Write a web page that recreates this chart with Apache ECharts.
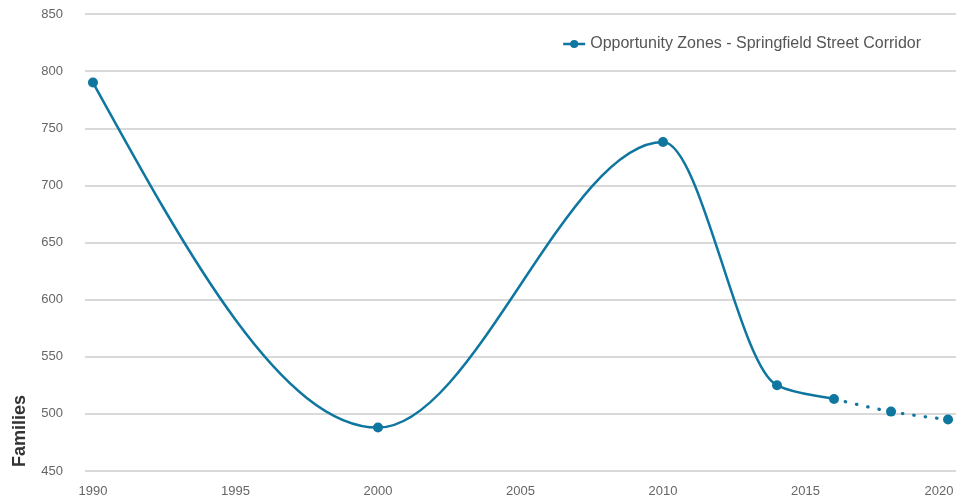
<!DOCTYPE html>
<html>
<head>
<meta charset="utf-8">
<script src="https://cdn.jsdelivr.net/npm/echarts@6/dist/echarts.min.js"></script>
<style>
  html, body { margin: 0; padding: 0; background: #fff; }
  #chart { width: 956px; height: 499px; }
</style>
</head>
<body>
<div id="chart"></div>
<script>
// Families counted in the corridor, by year
const seriesName = 'Opportunity Zones - Springfield Street Corridor';
const years = [1990, 2000, 2010, 2014, 2016, 2018, 2020];
const families = [790, 488, 738, 525, 513, 502, 495];
const projectionStart = 2016; // segments after this year are projections
const xTicks = [1990, 1995, 2000, 2005, 2010, 2015, 2020];
const yTicks = [450, 500, 550, 600, 650, 700, 750, 800, 850];

const blue = '#0f76a0';
const lastTick = xTicks[xTicks.length - 1];
const n = years.length;

// Monotone-x cubic tangents (Fritsch–Carlson style, as in d3.curveMonotoneX)
const sign = v => (v < 0 ? -1 : 1);
function innerSlope(i) {
  const h0 = years[i] - years[i - 1];
  const h1 = years[i + 1] - years[i];
  const s0 = (families[i] - families[i - 1]) / h0;
  const s1 = (families[i + 1] - families[i]) / h1;
  const p = (s0 * h1 + s1 * h0) / (h0 + h1);
  return (sign(s0) + sign(s1)) * Math.min(Math.abs(s0), Math.abs(s1), 0.5 * Math.abs(p)) || 0;
}
const tangents = new Array(n);
for (let i = 1; i < n - 1; i++) tangents[i] = innerSlope(i);
tangents[0] = (3 * (families[1] - families[0]) / (years[1] - years[0]) - tangents[1]) / 2;
tangents[n - 1] = (3 * (families[n - 1] - families[n - 2]) / (years[n - 1] - years[n - 2]) - tangents[n - 2]) / 2;

// one curve segment per pair of neighbouring points
const segments = years.slice(0, -1).map((y, i) => [y, families[i], i]);

function renderSegment(params, api) {
  const i = api.value(2);
  const x0 = years[i], x1 = years[i + 1];
  const y0 = families[i], y1 = families[i + 1];
  const dx = (x1 - x0) / 3;
  const a = api.coord([x0, y0]);
  const b = api.coord([x1, y1]);
  const c1 = api.coord([x0 + dx, y0 + dx * tangents[i]]);
  const c2 = api.coord([x1 - dx, y1 - dx * tangents[i + 1]]);
  const projected = x0 >= projectionStart;
  return {
    type: 'bezierCurve',
    shape: { x1: a[0], y1: a[1], x2: b[0], y2: b[1], cpx1: c1[0], cpy1: c1[1], cpx2: c2[0], cpy2: c2[1] },
    style: {
      fill: null,
      stroke: blue,
      lineWidth: projected ? 3.2 : 2.5,
      lineDash: projected ? [0.5, 11] : null,
      lineCap: 'round'
    }
  };
}

const chart = echarts.init(document.getElementById('chart'));
chart.setOption({
  animation: false,
  textStyle: { fontFamily: 'Liberation Sans, Arial, sans-serif' },
  grid: { left: 85, right: 0, top: 14, bottom: 28, outerBoundsMode: 'none', containLabel: false },
  legend: {
    data: [seriesName],
    right: 30,
    top: 31,
    itemWidth: 22,
    itemHeight: 10,
    itemGap: 6,
    lineStyle: { opacity: 1, width: 2.5, color: blue },
    textStyle: { color: '#555', fontSize: 16 }
  },
  graphic: [{
    type: 'text',
    left: 11,
    top: 395,
    rotation: Math.PI / 2,
    style: {
      text: 'Families',
      fill: '#333',
      font: 'bold 18px Liberation Sans, Arial, sans-serif'
    }
  }],
  xAxis: {
    type: 'value',
    min: 1989.72,
    max: 2020.28,
    axisLine: { show: false },
    axisTick: { show: false },
    splitLine: { show: false },
    axisLabel: {
      customValues: xTicks,
      color: '#666',
      fontSize: 13,
      margin: 14,
      // keep the last year label inside the canvas
      formatter: v => (v === lastTick ? '{last|' + v + '}' : String(v)),
      rich: { last: { color: '#666', fontSize: 13, padding: [0, 18, 0, 0] } }
    }
  },
  yAxis: {
    type: 'value',
    min: yTicks[0],
    max: yTicks[yTicks.length - 1],
    interval: 50,
    axisLine: { show: false },
    axisTick: { show: false },
    axisLabel: { color: '#666', fontSize: 13, margin: 22 },
    splitLine: { lineStyle: { color: '#d9d9d9', width: 2 } }
  },
  series: [
    {
      name: 'curve',
      type: 'custom',
      data: segments,
      encode: { x: 0, y: 1 },
      renderItem: renderSegment,
      silent: true,
      z: 2
    },
    {
      name: seriesName,
      type: 'line',
      data: years.map((y, i) => [y, families[i]]),
      symbol: 'circle',
      symbolSize: 10,
      itemStyle: { color: blue },
      lineStyle: { color: blue, width: 2.5, opacity: 0 },
      z: 3
    }
  ]
});
</script>
</body>
</html>
